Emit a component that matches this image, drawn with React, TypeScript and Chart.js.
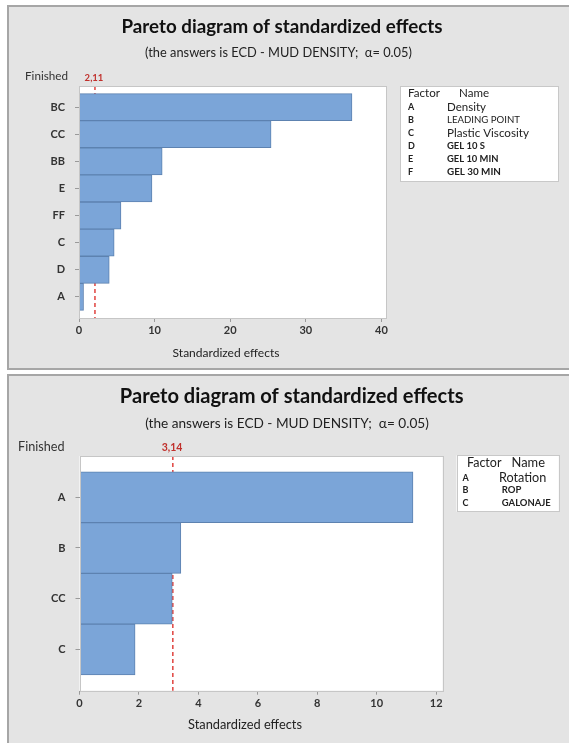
import React, { useEffect, useRef } from 'react';
import { Chart, registerables } from 'chart.js';

Chart.register(...registerables);

// ---------- shared text ----------
const TITLE = 'Pareto diagram of standardized effects';
const SUBTITLE = '(the answers is ECD - MUD DENSITY;  \u03b1= 0.05)';
const AXIS_TITLE = 'Standardized effects';
const Y_TITLE = 'Finished';
const FACTOR_HEADER = 'Factor';
const NAME_HEADER = 'Name';

// ---------- chart 1 data ----------
const terms1 = ['BC', 'CC', 'BB', 'E', 'FF', 'C', 'D', 'A'];
const effects1 = [36.1, 25.4, 11.0, 9.65, 5.55, 4.65, 4.0, 0.6];
const critical1 = 2.11;
const criticalLabel1 = '2,11';
const xTicks1 = [0, 10, 20, 30, 40];
const factorCodes1 = ['A', 'B', 'C', 'D', 'E', 'F'];
const factorNames1 = ['Density', 'LEADING POINT', 'Plastic Viscosity', 'GEL 10 S', 'GEL 10 MIN', 'GEL 30 MIN'];

// ---------- chart 2 data ----------
const terms2 = ['A', 'B', 'CC', 'C'];
const effects2 = [11.22, 3.41, 3.12, 1.87];
const critical2 = 3.14;
const criticalLabel2 = '3,14';
const xTicks2 = [0, 2, 4, 6, 8, 10, 12];
const factorCodes2 = ['A', 'B', 'C'];
const factorNames2 = ['Rotation', 'ROP', 'GALONAJE'];

const W = 569;
const FONT = 'Lato, Carlito, Calibri, "Open Sans", sans-serif';

// ---------- layout (positions / sizes only) ----------
const layout1 = {
  height: 371,
  panel: { left: 7, top: 5, bottom: 370, bottomBorder: true },
  plot: { left: 79, right: 386, top: 86, bottom: 318 },
  xMax: 40.6,
  gap: 0.245,
  title: { x: 282, y: 27, w: 321 },
  subtitle: { x: 278.5, y: 53, w: 267 },
  finished: { x: 25, y: 76, w: 43 },
  critLabel: { x: 94, y: 78, size: 9.5 },
  axisTitle: { x: 226, y: 353, w: 107 },
  legend: {
    left: 400, top: 86, right: 558, bottom: 181,
    headerY: 93, factorX: 408, factorW: 32, nameX: 459, nameW: 30,
    codeX: 408, codeSize: 9,
    rowsY: [107, 120, 133, 146, 159, 172],
    namesX: [447, 447, 447, 447, 447, 447],
    namesW: [39, 73, 82, 38, 51.5, 54],
    namesWeight: ['normal', 'normal', 'normal', 'bold', 'bold', 'bold'],
  },
};

const layout2 = {
  height: 372,
  panel: { left: 7, top: 3, bottom: 372, bottomBorder: false },
  plot: { left: 79.5, right: 442.7, top: 85, bottom: 319.7 },
  xMax: 12.22,
  gap: 0.234,
  title: { x: 291.7, y: 25.7, w: 344 },
  subtitle: { x: 287, y: 52.3, w: 284 },
  finished: { x: 18, y: 75.7, w: 46.6 },
  critLabel: { x: 172, y: 76.7, size: 10.5 },
  axisTitle: { x: 245, y: 354.3, w: 114 },
  legend: {
    left: 456.5, top: 84.3, right: 558.8, bottom: 140.7,
    headerY: 92.3, factorX: 467, factorW: 34.5, nameX: 511.6, nameW: 33.4,
    codeX: 462.6, codeSize: 9,
    rowsY: [106.7, 119, 132.3],
    namesX: [499, 501.8, 501.8],
    namesW: [47.4, 19.6, 49],
    namesWeight: ['normal', 'bold', 'bold'],
  },
};

function fitText(
  ctx: CanvasRenderingContext2D,
  text: string,
  x: number,
  y: number,
  width: number,
  weight: string,
  color: string,
  align: CanvasTextAlign = 'center'
) {
  ctx.save();
  ctx.font = `${weight} 20px ${FONT}`;
  const m = ctx.measureText(text).width || 1;
  const size = (20 * width) / m;
  ctx.font = `${weight} ${size}px ${FONT}`;
  ctx.fillStyle = color;
  ctx.textAlign = align;
  ctx.textBaseline = 'middle';
  ctx.fillText(text, x, y);
  ctx.restore();
}

type ParetoProps = {
  terms: string[];
  effects: number[];
  critical: number;
  criticalLabel: string;
  xTicks: number[];
  codes: string[];
  names: string[];
  lay: typeof layout1;
};

function Pareto({ terms, effects, critical, criticalLabel, xTicks, codes, names, lay }: ParetoProps) {
  const ref = useRef<HTMLCanvasElement | null>(null);

  useEffect(() => {
    const canvas = ref.current;
    if (!canvas) return;
    const H = lay.height;
    const P = lay.plot;

    const decor = {
      id: 'decor',
      beforeDraw(chart: any) {
        const ctx = chart.ctx as CanvasRenderingContext2D;
        ctx.save();
        ctx.fillStyle = '#ffffff';
        ctx.fillRect(0, 0, W, H);
        const pn = lay.panel;
        ctx.fillStyle = '#e4e4e4';
        ctx.fillRect(pn.left, pn.top, W - pn.left, pn.bottom - pn.top);
        ctx.fillStyle = '#a6a6a6';
        ctx.fillRect(pn.left, pn.top, 2, pn.bottom - pn.top);
        ctx.fillRect(pn.left, pn.top, W - pn.left, 2);
        if (pn.bottomBorder) ctx.fillRect(pn.left, pn.bottom - 2, W - pn.left, 2);
        const a = chart.chartArea;
        ctx.fillStyle = '#ffffff';
        ctx.fillRect(a.left, a.top, a.right - a.left, a.bottom - a.top);
        ctx.restore();
      },
      beforeDatasetsDraw(chart: any) {
        const ctx = chart.ctx as CanvasRenderingContext2D;
        const a = chart.chartArea;
        const x = chart.scales.x.getPixelForValue(critical);
        ctx.save();
        ctx.strokeStyle = '#e0433f';
        ctx.lineWidth = 1.5;
        ctx.setLineDash([4, 3]);
        ctx.beginPath();
        ctx.moveTo(x, a.top);
        ctx.lineTo(x, a.bottom);
        ctx.stroke();
        ctx.restore();
      },
      afterDraw(chart: any) {
        const ctx = chart.ctx as CanvasRenderingContext2D;
        const a = chart.chartArea;
        ctx.save();
        ctx.strokeStyle = '#c6c6c6';
        ctx.lineWidth = 1;
        ctx.strokeRect(Math.round(a.left) + 0.5, Math.round(a.top) + 0.5, Math.round(a.right - a.left), Math.round(a.bottom - a.top));
        ctx.restore();

        fitText(ctx, TITLE, lay.title.x, lay.title.y, lay.title.w, 'bold', '#111111');
        fitText(ctx, SUBTITLE, lay.subtitle.x, lay.subtitle.y, lay.subtitle.w, 'normal', '#222222');
        fitText(ctx, Y_TITLE, lay.finished.x, lay.finished.y, lay.finished.w, 'normal', '#333333', 'left');
        fitText(ctx, AXIS_TITLE, lay.axisTitle.x, lay.axisTitle.y, lay.axisTitle.w, 'normal', '#222222');

        ctx.save();
        ctx.font = `bold ${lay.critLabel.size}px ${FONT}`;
        ctx.fillStyle = '#c0302c';
        ctx.textAlign = 'center';
        ctx.textBaseline = 'middle';
        ctx.fillText(criticalLabel, lay.critLabel.x, lay.critLabel.y);
        ctx.restore();

        const L = lay.legend;
        ctx.save();
        ctx.fillStyle = '#ffffff';
        ctx.fillRect(L.left, L.top, L.right - L.left, L.bottom - L.top);
        ctx.strokeStyle = '#c8c8c8';
        ctx.lineWidth = 1;
        ctx.strokeRect(Math.round(L.left) + 0.5, Math.round(L.top) + 0.5, Math.round(L.right - L.left), Math.round(L.bottom - L.top));
        ctx.restore();
        fitText(ctx, FACTOR_HEADER, L.factorX, L.headerY, L.factorW, 'normal', '#222222', 'left');
        fitText(ctx, NAME_HEADER, L.nameX, L.headerY, L.nameW, 'normal', '#222222', 'left');
        codes.forEach((c, i) => {
          ctx.save();
          ctx.font = `bold ${L.codeSize}px ${FONT}`;
          ctx.fillStyle = '#222222';
          ctx.textAlign = 'left';
          ctx.textBaseline = 'middle';
          ctx.fillText(c, L.codeX, L.rowsY[i]);
          ctx.restore();
          fitText(ctx, names[i], L.namesX[i], L.rowsY[i], L.namesW[i], L.namesWeight[i], '#222222', 'left');
        });
      },
    };

    const chart = new Chart(canvas, {
      type: 'bar',
      data: {
        datasets: [
          {
            data: effects.map((v, i) => ({ x: v, y: i })) as any,
            backgroundColor: '#7ba5d8',
            borderColor: '#5d82b0',
            borderWidth: 1,
            barPercentage: 1,
            categoryPercentage: 1,
          },
        ],
      },
      options: {
        indexAxis: 'y',
        responsive: false,
        animation: false,
        events: [],
        layout: { padding: { left: 0, top: P.top, right: W - P.right, bottom: 0 } },
        plugins: { legend: { display: false }, tooltip: { enabled: false }, title: { display: false } },
        scales: {
          x: {
            type: 'linear',
            min: 0,
            max: lay.xMax,
            afterBuildTicks: (s: any) => {
              s.ticks = xTicks.map((v) => ({ value: v }));
            },
            afterFit: (s: any) => {
              s.height = H - P.bottom;
            },
            grid: { drawOnChartArea: false, drawTicks: true, tickLength: 4, color: '#9a9a9a', offset: false },
            border: { display: false },
            ticks: {
              padding: 2,
              autoSkip: false,
              maxRotation: 0,
              color: '#333333',
              font: { family: FONT, weight: 'bold', size: 11 },
            },
          },
          y: {
            type: 'linear',
            reverse: true,
            min: -lay.gap,
            max: terms.length - 1 + lay.gap,
            afterBuildTicks: (s: any) => {
              s.ticks = terms.map((_, i) => ({ value: i }));
            },
            afterFit: (s: any) => {
              s.width = P.left;
            },
            grid: { drawOnChartArea: false, drawTicks: true, tickLength: 4, color: '#9a9a9a', offset: false },
            border: { display: false },
            ticks: {
              padding: 10,
              autoSkip: false,
              color: '#333333',
              font: { family: FONT, weight: 'bold', size: 11 },
              callback: (v: any) => terms[v as number] ?? '',
            },
          },
        },
      } as any,
      plugins: [decor],
    });
    return () => chart.destroy();
  }, []);

  return <canvas ref={ref} width={W} height={lay.height} style={{ display: 'block', width: W, height: lay.height }} />;
}

export default function App() {
  return (
    <div style={{ position: 'absolute', left: 0, top: 0, width: W, height: 743, background: '#fff' }}>
      <Pareto
        terms={terms1}
        effects={effects1}
        critical={critical1}
        criticalLabel={criticalLabel1}
        xTicks={xTicks1}
        codes={factorCodes1}
        names={factorNames1}
        lay={layout1}
      />
      <Pareto
        terms={terms2}
        effects={effects2}
        critical={critical2}
        criticalLabel={criticalLabel2}
        xTicks={xTicks2}
        codes={factorCodes2}
        names={factorNames2}
        lay={layout2 as any}
      />
    </div>
  );
}
